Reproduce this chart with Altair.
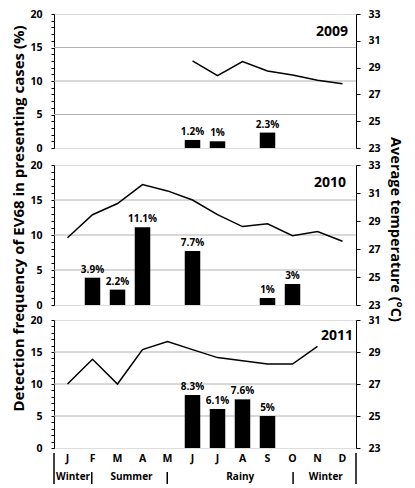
import altair as alt
import pandas as pd

months = ["Jan", "Feb", "Mar", "Apr", "May", "Jun", "Jul", "Aug", "Sep", "Oct", "Nov", "Dec"]

freq_2009 = [None, None, None, None, None, 1.2, 1.0, None, 2.3, None, None, None]
freq_2010 = [None, 3.9, 2.2, 11.1, None, 7.7, None, None, 1.0, 3.0, None, None]
freq_2011 = [None, None, None, None, None, 8.3, 6.1, 7.6, 5.0, None, None, None]

temp_2009 = [None, None, None, None, None, 29.5, 28.4, 29.45, 28.75, 28.45, 28.05, 27.8]
temp_2010 = [27.8, 29.45, 30.25, 31.6, 31.15, 30.5, 29.45, 28.6, 28.8, 27.95, 28.25, 27.55]
temp_2011 = [27.0, 28.55, 27.0, 29.15, 29.65, 29.15, 28.65, 28.45, 28.25, 28.25, 29.35, None]

years = ["2009", "2010", "2011"]
grid_values = [5, 10, 15]

seasons = ["Winter", "Summer", "Rainy", "Winter"]
season_label_pos = [0.76, 3.08, 7.4, 10.8]
season_bounds = [1.5, 4.5, 9.5]
season_edges = [0, 12]

W = 302
FONT = "Open Sans"
LBL = 10.5


def bar_df(freq):
    rows = [{"month": m, "freq": v, "label": f"{v:g}%"} for m, v in zip(months, freq) if v is not None]
    return pd.DataFrame(rows)


def temp_df(temp):
    rows = [{"month": m, "temp": v} for m, v in zip(months, temp) if v is not None]
    return pd.DataFrame(rows)


def xscale():
    return alt.Scale(domain=months, paddingInner=0.38, paddingOuter=0.23)


def yscale():
    return alt.Scale(domain=[0, 20], nice=False)


def panel(freq, temp, year, height, tdom, tvals, year_dx, year_y, show_x,
          left_title=False, right_title=False):
    if show_x:
        x = alt.X("month:N", sort=months, scale=xscale(), title=None,
                  axis=alt.Axis(labelExpr="substring(datum.label, 0, 1)", ticks=False, domain=False,
                                labelAngle=0, labelPadding=5, labelFontSize=LBL, labelFontWeight="bold",
                                labelColor="black", title=None))
    else:
        x = alt.X("month:N", sort=months, scale=xscale(), axis=None)

    laxis_kw = dict(tickCount=20, labelExpr="(datum.value % 5 == 0) ? datum.label : ''",
                    tickSize=3, tickColor="black", labelPadding=9, labelOverlap=False,
                    labelFontSize=LBL, labelFontWeight="bold", labelColor="black",
                    domainColor="black", grid=False)
    if left_title:
        laxis_kw.update(title="Detection frequency of EV68 in presenting cases (%)", titleFontSize=15,
                        titleFontWeight="bold", titleColor="black", titleAngle=-90,
                        titleX=-36, titleY=53, titleAlign="center", titleBaseline="middle")
    else:
        laxis_kw.update(title=None)

    raxis_kw = dict(values=tvals, tickSize=4, tickColor="black", labelPadding=8, labelFontSize=LBL,
                    labelFontWeight="bold", labelColor="black", domainColor="black", grid=False,
                    labelOverlap=False, orient="right")
    if right_title:
        raxis_kw.update(title="Average temperature (°C)", titleFontSize=14.5, titleFontWeight="bold",
                        titleColor="black", titleAngle=90, titleX=38, titleY=64,
                        titleAlign="center", titleBaseline="middle")
    else:
        raxis_kw.update(title=None)

    grid = alt.Chart(pd.DataFrame({"g": grid_values})).mark_rule(color="#b2b2b2", strokeWidth=1).encode(
        x=alt.value(0), x2=alt.value(W),
        y=alt.Y("g:Q", scale=yscale(), axis=alt.Axis(**laxis_kw)))

    bdf = bar_df(freq)
    bars = alt.Chart(bdf).mark_bar(color="black").encode(x=x, y=alt.Y("freq:Q", scale=yscale()))
    labels = alt.Chart(bdf).mark_text(dy=-3, baseline="bottom", fontSize=10, fontWeight="bold",
                                      font=FONT, color="black").encode(
        x=alt.X("month:N", sort=months, scale=xscale()),
        y=alt.Y("freq:Q", scale=yscale()),
        text="label:N")
    ytext = alt.Chart(pd.DataFrame({"year": [year]})).mark_text(
        align="right", baseline="alphabetic", fontSize=14, fontWeight="bold", font=FONT, color="black"
    ).encode(x=alt.value(W - year_dx), y=alt.value(year_y), text="year:N")

    line = alt.Chart(temp_df(temp)).mark_line(color="black", strokeWidth=1.5).encode(
        x=alt.X("month:N", sort=months, scale=xscale()),
        y=alt.Y("temp:Q", scale=alt.Scale(domain=tdom, nice=False), axis=alt.Axis(**raxis_kw)))

    left = alt.layer(grid, bars, labels, ytext)
    return alt.layer(left, line).resolve_scale(y="independent").properties(width=W, height=height)


p1 = panel(freq_2009, temp_2009, years[0], 134, [23, 33], [23, 25, 27, 29, 31, 33], 8, 22, False)
p2 = panel(freq_2010, temp_2010, years[1], 140, [23, 33], [23, 25, 27, 29, 31, 33], 10, 22, False,
           left_title=True, right_title=True)
p3 = panel(freq_2011, temp_2011, years[2], 128, [23, 31], [23, 25, 27, 29, 31], 3, 20, True)

xs = alt.Scale(domain=[0, 12], nice=False)
ys = alt.Scale(domain=[0, 1], nice=False)
edges = alt.Chart(pd.DataFrame({"x": season_edges})).mark_rule(color="black", strokeWidth=1.5).encode(
    x=alt.X("x:Q", scale=xs, axis=None), y=alt.datum(0, scale=ys, axis=None), y2=alt.datum(1))
seps = alt.Chart(pd.DataFrame({"x": season_bounds})).mark_rule(color="black", strokeWidth=1.5).encode(
    x=alt.X("x:Q", scale=xs, axis=None), y=alt.datum(0, scale=ys, axis=None), y2=alt.datum(0.39))
stext = alt.Chart(pd.DataFrame({"x": season_label_pos, "s": seasons})).mark_text(
    fontSize=10, fontWeight="bold", font=FONT, color="black", baseline="middle").encode(
    x=alt.X("x:Q", scale=xs, axis=None), y=alt.datum(0.235, scale=ys, axis=None), text="s:N")
season = alt.layer(edges, seps, stext).properties(width=W, height=31, view=alt.ViewBackground(strokeOpacity=0))

inner2 = alt.vconcat(p3, season, spacing=5, bounds="flush")
inner1 = alt.vconcat(p2, inner2, spacing=15, bounds="flush")
chart = alt.vconcat(p1, inner1, spacing=17, bounds="flush").configure_view(
    stroke="black", strokeWidth=1).configure(font=FONT).properties(
    padding={"left": 2, "top": 0, "right": 2, "bottom": 0})

chart.save("out.html", embed_options={"renderer": "svg", "actions": False})
